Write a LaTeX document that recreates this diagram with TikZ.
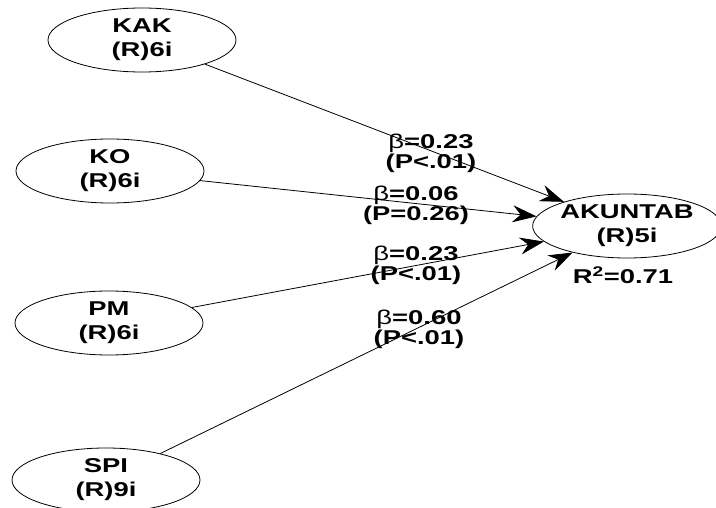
\documentclass[tikz,border=0pt]{standalone}
\usepackage{fontspec}
\setmainfont{Liberation Sans}
\newfontfamily\widefont[FakeStretch=1.37]{Liberation Sans}
\usetikzlibrary{shapes.geometric,arrows.meta}
\begin{document}
\begin{tikzpicture}[x=1pt, y=-1pt,
    latent/.style={draw, ellipse, line width=0.8pt, minimum width=188pt, minimum height=64pt, inner sep=0pt, align=center, font=\widefont\bfseries\fontsize{20}{24}\selectfont},
    coef/.style={align=center, inner sep=0pt, font=\widefont\bfseries\fontsize{20}{20}\selectfont},
    pathcoef/.style={line width=0.8pt, -{Stealth[length=24pt, width=17pt, inset=8pt]}}]
  \useasboundingbox (0,0) rectangle (716,508);
  % latent variables
  \node [latent] (kak) at (142, 40) {KAK\\(R)6i};
  \node [latent] (ko) at (110, 171) {KO\\(R)6i};
  \node [latent] (pm) at (109, 323) {PM\\(R)6i};
  \node [latent] (spi) at (106, 480) {SPI\\(R)9i};
  \node [latent, minimum width=180pt] (akuntab) at (627, 226) {AKUNTAB\\(R)5i};
  \node [coef] (rsq) at (623, 275) {R\textsuperscript{2}=0.71};
  % paths
  \draw [pathcoef] (kak) -- (akuntab);
  \draw [pathcoef] (ko) -- (akuntab);
  \draw [pathcoef] (pm) -- (akuntab);
  \draw [pathcoef] (spi) -- (akuntab);
  % coefficients
  \node [coef] (kakb) at (431, 153) {{\mdseries β}=0.23\\(P<.01)};
  \node [coef] (kob) at (416, 205) {{\mdseries β}=0.06\\(P=0.26)};
  \node [coef] (pmb) at (416, 265) {{\mdseries β}=0.23\\(P<.01)};
  \node [coef] (spib) at (419, 329) {{\mdseries β}=0.60\\(P<.01)};
\end{tikzpicture}
\end{document}
